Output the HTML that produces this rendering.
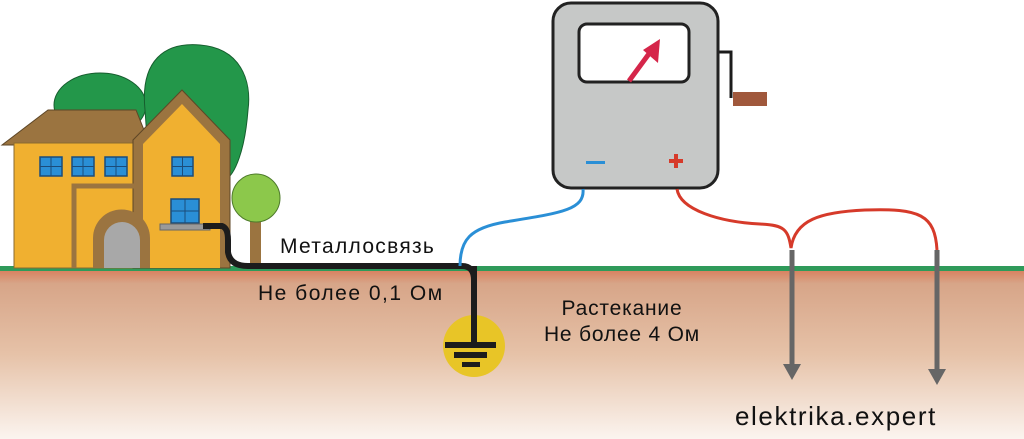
<!DOCTYPE html>
<html><head><meta charset="utf-8"><style>html,body{margin:0;padding:0;background:#fff}svg{display:block}text{font-family:"Liberation Sans",sans-serif}</style></head>
<body>
<svg width="1024" height="439" viewBox="0 0 1024 439" xmlns="http://www.w3.org/2000/svg">
<defs>
<linearGradient id="soil" x1="0" y1="0" x2="0" y2="1">
<stop offset="0" stop-color="#d9805e"/>
<stop offset="0.08" stop-color="#d7a588"/>
<stop offset="0.5" stop-color="#e6c2a8"/>
<stop offset="1" stop-color="#fbf4ef"/>
</linearGradient>
</defs>
<rect x="0" y="270" width="1024" height="169" fill="url(#soil)"/>
<rect x="0" y="266" width="1024" height="5" fill="#2f9a5a"/>
<!-- trees -->
<ellipse cx="100" cy="105" rx="46" ry="32" fill="#23974a" stroke="#165d2e"/>
<path d="M145 110 C140 60 165 42 200 45 C240 48 252 80 248 110 C245 150 235 175 225 180 L150 180 Z" fill="#23974a" stroke="#165d2e"/>
<!-- left roof -->
<polygon points="2,145 48,110 136,110 150,145" fill="#9b7440" stroke="#5e4626"/>
<rect x="14" y="143" width="128" height="125" fill="#f0b030" stroke="#8a6a30"/>
<!-- right gable -->
<polygon points="133,268 133,140 182,90 230,140 230,268" fill="#9b7440" stroke="#5e4626"/>
<polygon points="143,268 143,144 182,104 220,144 220,268" fill="#f0b030"/>
<!-- brown strip -->
<path d="M74 268 V186 H140 V150" fill="none" stroke="#9b7440" stroke-width="5"/>
<!-- windows -->
<g fill="#2a8fd6" stroke="#1b4c7a" stroke-width="1.5">
<rect x="40" y="157" width="22" height="19"/><rect x="72" y="157" width="22" height="19"/>
<rect x="105" y="157" width="22" height="19"/><rect x="172" y="157" width="21" height="19"/>
<rect x="171" y="199" width="28" height="24"/>
</g>
<g stroke="#1b4c7a" stroke-width="1">
<path d="M51 157V176M40 166.5H62M83 157V176M72 166.5H94M116 157V176M105 166.5H127M182.5 157V176M172 166.5H193M185 199V223M171 211H199"/>
</g>
<rect x="160" y="224" width="50" height="6" fill="#9a9a9a" stroke="#666"/>
<!-- door -->
<path d="M93 268 V238 A28 28 0 0 1 150 238 V268 Z" fill="#9b7440"/>
<path d="M104 268 V240 A18 18 0 0 1 140 240 V268 Z" fill="#a8a8a8"/>
<!-- small tree -->
<rect x="250" y="218" width="11" height="50" fill="#9b7440"/>
<circle cx="256" cy="198" r="24" fill="#8cc84b" stroke="#4d7a2a"/>
<!-- black cable -->
<path d="M203 226 H222 Q228 228 228 240 V252 Q230 266 248 266 H462 Q474 266 474 280 V345" fill="none" stroke="#1c1c1c" stroke-width="6"/>
<!-- ground symbol -->
<circle cx="474" cy="346" r="31" fill="#e8c527"/>
<path d="M474 266 V346" stroke="#1c1c1c" stroke-width="6"/>
<rect x="445" y="342" width="51" height="6" fill="#1c1c1c"/>
<rect x="454" y="352" width="33" height="6" fill="#1c1c1c"/>
<rect x="462" y="362" width="18" height="5" fill="#1c1c1c"/>
<!-- meter -->
<path d="M718 52 H731 V98" fill="none" stroke="#1c1c1c" stroke-width="3"/>
<rect x="733" y="92" width="34" height="14" fill="#a0583c"/>
<rect x="553" y="3" width="165" height="185" rx="18" fill="#c6c8c7" stroke="#222" stroke-width="3"/>
<rect x="579" y="24" width="110" height="58" rx="8" fill="#fff" stroke="#222" stroke-width="3"/>
<path d="M629 81 L651 51" stroke="#d5264a" stroke-width="5"/>
<polygon points="660,39 658,63 643,50" fill="#d5264a"/>
<rect x="586" y="161" width="19" height="3" fill="#2a8fd6"/>
<path d="M669 161 H683 M676 154 V168" stroke="#d63a2a" stroke-width="4"/>
<!-- blue cable -->
<path d="M583 189 C585 210 560 213 505 222 C470 228 460 240 460 266" fill="none" stroke="#2a8fd6" stroke-width="3"/>
<!-- red cable -->
<path d="M677 189 C680 210 720 222 760 224 C785 225 788 230 791 248 C795 220 820 212 865 210 C920 208 935 215 937 250" fill="none" stroke="#d63a2a" stroke-width="3"/>
<!-- probes -->
<path d="M792 250 V367 M937 250 V373" stroke="#666" stroke-width="5"/>
<polygon points="783,364 801,364 792,380" fill="#666"/>
<polygon points="928,369 946,369 937,385" fill="#666"/>
<!-- text -->
<g font-size="21" fill="#111">
<text x="280" y="253" letter-spacing="1.3">Металлосвязь</text>
<text x="258" y="300" letter-spacing="1.5">Не более 0,1 Ом</text>
<text x="622" y="315" text-anchor="middle" letter-spacing="0.8">Растекание</text>
<text x="622" y="341" text-anchor="middle" letter-spacing="0.8">Не более 4 Ом</text>
</g>
<text x="735" y="425" font-size="26" letter-spacing="1.6" fill="#111">elektrika.expert</text>
</svg>
</body></html>
